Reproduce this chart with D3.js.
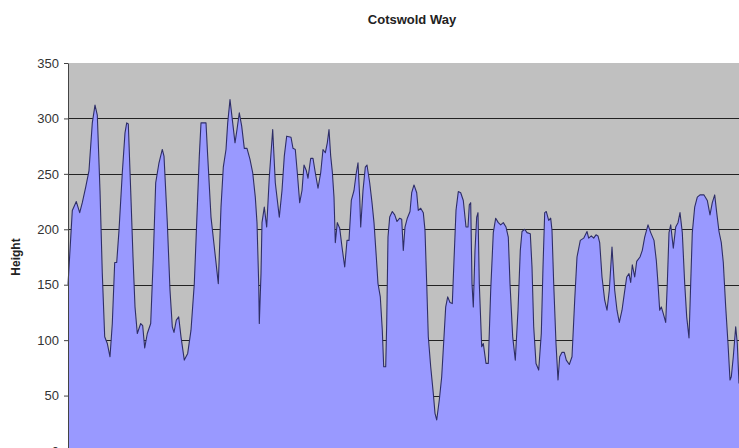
<!DOCTYPE html>
<html>
<head>
<meta charset="utf-8">
<script src="https://cdn.jsdelivr.net/npm/d3@7"></script>
<style>
  html, body { margin: 0; padding: 0; background: #ffffff; }
  svg { display: block; }
</style>
</head>
<body>
<svg id="chart" width="739" height="448"></svg>
<script>
// Distance along the route (chart units) and height at that point
const distance = [0,4.3,8.3,11.7,14.3,17.7,21,24.3,27,29.3,32,34.3,36.7,39.3,42,44.3,46.7,48.7,51,54.3,57,58.7,60.3,62.7,65,67,69.3,72.7,74.7,76.7,79.3,82.7,85.3,87.7,91,94.3,96,99.3,102,104.3,106,108.3,110.7,
113,116.3,119.7,123,126.3,128.7,131.3,133,138,139.7,143,146.3,150.3,153,155.3,158,159.7,162,164.7,167,169,171.3,173.7,176.3,179,182,184.7,187.3,189,190.7,191.3,193,194,196.3,198.7,201.3,204.7,207.3,211.3,214,216.3,218.7,223,
225,227.3,229.3,231.7,234,236,238.3,240,242.7,245,247.3,250,252.7,255,257.3,259.3,261,262.7,264.3,266,267.3,269.3,271.7,274,276.7,279,281,283.3,286,288.3,290,291.7,292.7,295,297.3,299,301.7,304,306,308.3,310,312.3,314.3,315.7,317.7,318.7,320,321.7,324.3,326.7,329,331.7,
333.7,335.3,337,339.3,342,343.7,346,348.7,350.3,352.7,355.3,357,358.7,360.3,362.7,365.3,367,368.7,371.3,373.7,376,377.7,379.7,382,384.3,386,388,390.3,392.7,395.3,398,400,401.3,402.7,404,405.3,407,408.7,410,411.3,413.7,415.3,418,420.3,422.7,425.3,427.7,430.3,432.7,435.3,438,440.3,442,444.7,447.3,
450,452.3,454,456.7,459,462.3,464,465.7,468,470.7,473.3,475,476.7,478.3,480.7,482.7,484,485.7,488,490,491.7,494,496.3,498.3,501.3,504,506.7,509,512.3,515.7,519,520.7,523.3,525.7,528,530,531.7,534,536.7,539,541.3,544,546.7,549,551.3,554,556,
558.7,561,562.7,564.3,566.7,568.7,572,574.3,576.7,580,582.7,586,588.3,590,591.7,593.3,595.3,597.7,599.3,601,602.7,605.3,607.7,610,612,614.3,616.7,618.7,621,622.7,624.3,626.7,629.3,632,636,639.3,642,644.3,646.7,648.7,651,653.3,655.3,657.7,660,662,663.3,665.3,667.7,669.3,671];

const height = [150,217,225,215,224,238,253,296,312,303,235,160,103,97,85,115,170,170,199,251,287,296,295,235,175,130,106,115,113,93,106,115,175,242,260,272,266,206,145,112,107,118,121,
103,82,88,109,151,206,266,296,296,266,211,184,151,220,256,272,296,317,296,278,290,305,293,273,273,263,251,229,206,151,115,160,206,220,202,247,290,242,211,235,266,284,283,
273,272,251,224,235,258,253,246,264,264,251,237,251,272,269,278,290,266,252,229,188,206,201,184,166,190,190,226,235,251,260,229,202,235,256,258,242,224,206,175,151,139,109,76,76,115,193,211,216,213,207,210,
209,181,202,210,216,233,240,233,217,219,215,199,151,103,76,52,34,28,46,67,103,130,139,134,133,172,217,234,233,226,202,202,222,224,151,130,181,211,215,151,94,97,79,79,145,197,210,206,204,206,202,193,151,103,82,
127,181,198,200,197,196,166,112,79,73,106,166,215,216,208,210,199,151,97,64,85,89,89,82,78,85,136,175,190,192,198,192,194,192,195,194,188,157,136,127,145,184,145,127,116,127,140,
157,160,152,168,157,171,175,181,193,204,197,190,172,151,127,130,124,116,151,197,204,183,202,206,215,197,151,121,102,151,197,220,229,231,231,226,213,224,231,215,198,188,170,130,97,64,67,85,112,97,61];

const yTicks = [0, 50, 100, 150, 200, 250, 300, 350];
const chartTitle = "Cotswold Way";
const yTitle = "Height";

const data = distance.map((d, i) => ({ d: d, h: height[i] }));

const svg = d3.select("#chart");
const plot = { left: 68, right: 739, top: 63, bottom: 451 };

const x = d3.scaleLinear().domain([0, d3.max(distance)]).range([plot.left, plot.right]);
const y = d3.scaleLinear().domain([0, 350]).range([plot.bottom, plot.top]);

// plot area background
svg.append("rect")
  .attr("x", plot.left).attr("y", plot.top)
  .attr("width", plot.right - plot.left).attr("height", plot.bottom - plot.top)
  .attr("fill", "#c0c0c0");

// gridlines
svg.append("g")
  .selectAll("line")
  .data(yTicks.filter(t => t > 0 && t < 350))
  .join("line")
  .attr("x1", plot.left).attr("x2", plot.right)
  .attr("y1", d => Math.round(y(d)) + 0.5).attr("y2", d => Math.round(y(d)) + 0.5)
  .attr("stroke", "#222").attr("stroke-width", 1.2);

// area
const area = d3.area().x(d => x(d.d)).y0(y(0)).y1(d => y(d.h));
const line = d3.line().x(d => x(d.d)).y(d => y(d.h));

svg.append("path").datum(data).attr("d", area).attr("fill", "#9999ff");
svg.append("path").datum(data).attr("d", line)
  .attr("fill", "none").attr("stroke", "#2e2e66").attr("stroke-width", 1.1)
  .attr("stroke-linejoin", "round");

// y axis
const yAxis = d3.axisLeft(y).tickValues(yTicks).tickSize(4).tickPadding(5).tickSizeOuter(0);
const gy = svg.append("g").attr("transform", `translate(${plot.left},0)`).call(yAxis);
gy.select(".domain").attr("stroke", "#444");
gy.selectAll(".tick line").attr("stroke", "#444");
gy.selectAll(".tick text")
  .attr("font-family", "Liberation Sans, Arial, sans-serif")
  .attr("font-size", 13).attr("fill", "#333");

// titles
svg.append("text")
  .attr("x", 412).attr("y", 24)
  .attr("text-anchor", "middle")
  .attr("font-family", "Liberation Sans, Arial, sans-serif")
  .attr("font-weight", "bold").attr("font-size", 13).attr("fill", "#222")
  .text(chartTitle);

svg.append("text")
  .attr("transform", "translate(20,257) rotate(-90)")
  .attr("text-anchor", "middle")
  .attr("font-family", "Liberation Sans, Arial, sans-serif")
  .attr("font-weight", "bold").attr("font-size", 12).attr("fill", "#222")
  .text(yTitle);
</script>
</body>
</html>
